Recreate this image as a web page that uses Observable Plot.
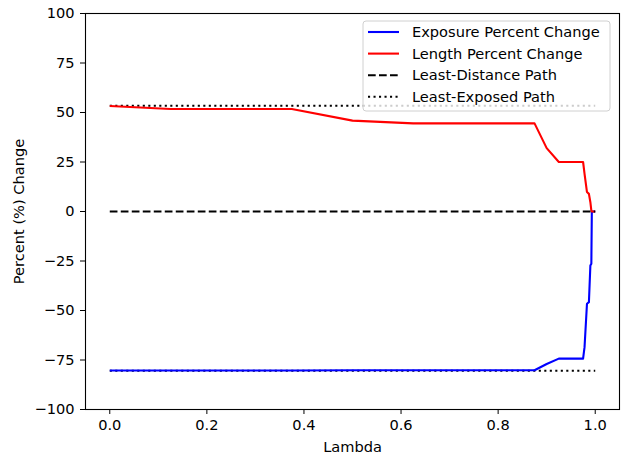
<!DOCTYPE html>
<html><head><meta charset="utf-8">
<script src="https://cdn.jsdelivr.net/npm/d3@7"></script>
<script src="https://cdn.jsdelivr.net/npm/@observablehq/plot@0.6"></script>
<style>
body{margin:0;background:#fff;}
svg{display:block;}
</style>
</head><body><div id="chart"></div>
<script>
// ---- data ----
const lambda         = [0, 0.125, 0.25, 0.375, 0.5, 0.625, 0.75, 0.875, 0.9, 0.925, 0.95, 0.975, 0.978, 0.983, 0.987, 0.99, 0.992, 0.993, 1.0];
const exposureChange = [-80.3, -80.3, -80.3, -80.3, -80.2, -80.2, -80.2, -80.2, -77.0, -74.3, -74.3, -74.3, -68.5, -46.6, -45.8, -27.3, -26.4, 0, 0];
const lengthChange   = [53.3, 51.8, 51.8, 51.8, 45.9, 44.5, 44.5, 44.5, 32.0, 25.0, 25.0, 25.0, 19.0, 9.8, 8.9, 4.7, 0.5, 0, 0];
const pathLambda = [0, 1];
const leastDistanceLevel = [0, 0];
const leastExposedExposure = [-80.4, -80.4];
const leastExposedLength = [53.4, 53.4];
const seriesNames = ["Exposure Percent Change", "Length Percent Change", "Least-Distance Path", "Least-Exposed Path"];
const seriesColors = ["#0000ff", "#ff0000", "#000000", "#000000"];
const seriesDash = [null, null, "7.7,3.3", "2.1,3.4"];
const xTicks = [0, 0.2, 0.4, 0.6, 0.8, 1.0];
const yTicks = [-100, -75, -50, -25, 0, 25, 50, 75, 100];

const rows = (xs, ys) => xs.map((x, i) => ({x, y: ys[i]}));
const FONT = "DejaVu Sans";
const FS = "14.6px";
const lineOpts = (i) => ({x: "x", y: "y", stroke: seriesColors[i], strokeWidth: 2.1,
  strokeDasharray: seriesDash[i] || undefined, strokeLinecap: "butt", strokeLinejoin: "round"});

const plot = Plot.plot({
  width: 621,
  height: 457,
  marginLeft: 85,
  marginRight: 2,
  marginTop: 13,
  marginBottom: 48,
  style: {fontFamily: FONT, fontSize: FS, color: "#000", background: "#fff"},
  x: {domain: [-0.05, 1.05]},
  y: {domain: [-100, 100]},
  marks: [
    Plot.line(rows(pathLambda, leastExposedLength), lineOpts(3)),
    Plot.line(rows(pathLambda, leastExposedExposure), lineOpts(3)),
    Plot.line(rows(lambda, exposureChange), lineOpts(0)),
    Plot.line(rows(lambda, lengthChange), lineOpts(1)),
    Plot.line(rows(pathLambda, leastDistanceLevel), lineOpts(2)),
    Plot.frame({stroke: "#000", strokeWidth: 1.1, strokeOpacity: 1}),
    Plot.axisX({ticks: xTicks, tickFormat: d3.format(".1f"), tickSize: 5, tickPadding: 5, label: "Lambda", labelAnchor: "center", labelArrow: "none", labelOffset: 42}),
    Plot.axisY({ticks: yTicks, tickFormat: d3.format("d"), tickSize: 5, tickPadding: 6, label: "Percent (%) Change", labelAnchor: "center", labelArrow: "none", labelOffset: 72})
  ]
});
document.getElementById("chart").appendChild(plot);

// ---- legend inside the plot (upper right) ----
const svg = d3.select(plot);
const lg = svg.append("g").attr("font-family", FONT).attr("font-size", FS).attr("text-anchor", "start");
lg.append("rect").attr("x", 363).attr("y", 21).attr("width", 247).attr("height", 90)
  .attr("rx", 3).attr("fill", "#fff").attr("fill-opacity", 0.8).attr("stroke", "#d0d0d0").attr("stroke-width", 1);
seriesNames.forEach((name, i) => {
  const cy = 32 + i * 21.6;
  const ln = lg.append("line").attr("x1", 368).attr("x2", 399).attr("y1", cy).attr("y2", cy)
    .attr("stroke", seriesColors[i]).attr("stroke-width", 2.1).attr("stroke-linecap", "butt");
  if (seriesDash[i]) ln.attr("stroke-dasharray", seriesDash[i]);
  lg.append("text").attr("x", 412).attr("y", cy).attr("dy", "0.35em").attr("fill", "#000").text(name);
});
</script>
</body></html>
